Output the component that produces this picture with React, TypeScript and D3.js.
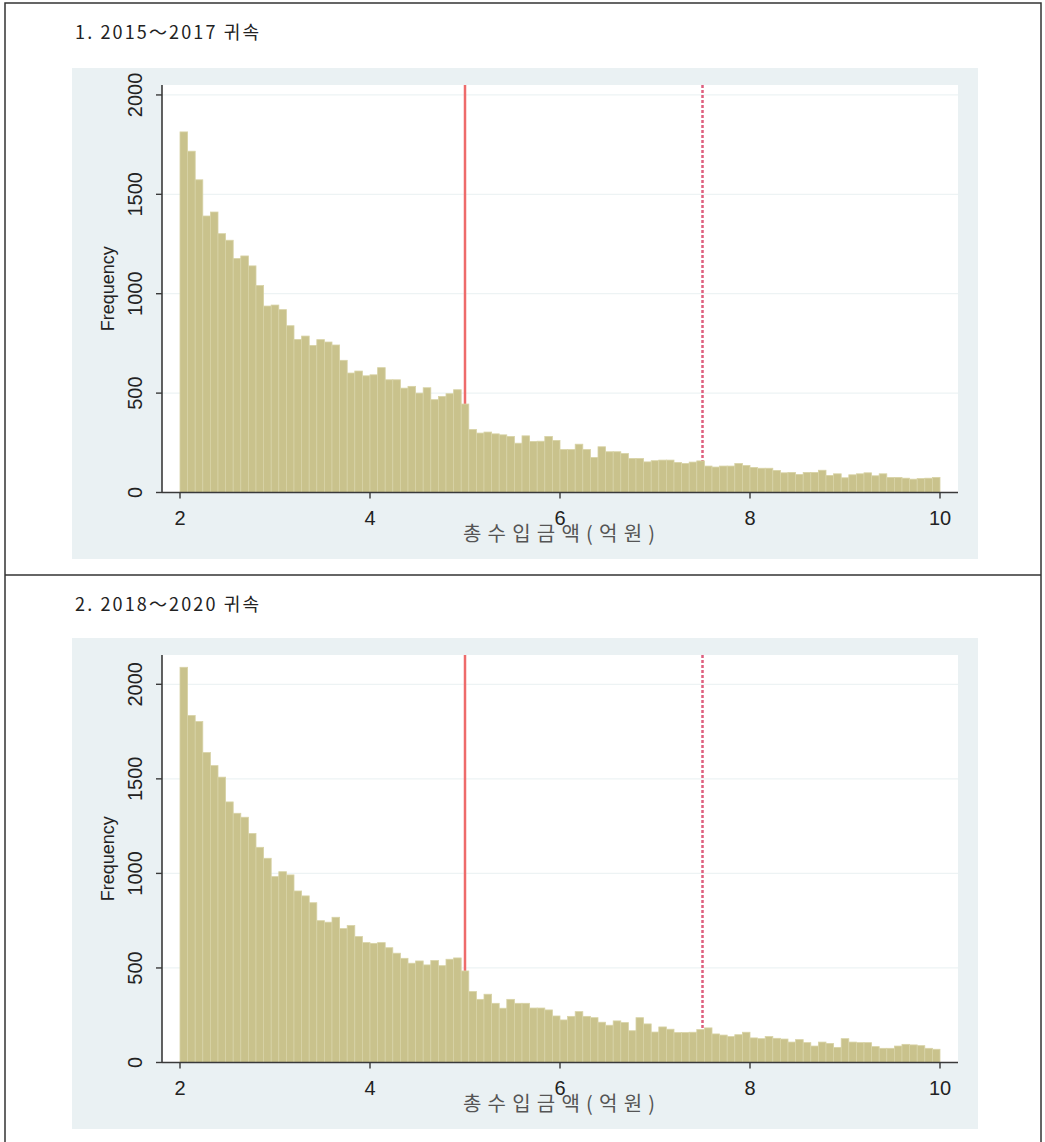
import React from 'react';
import * as d3 from 'd3';

// histogram bins: 100 bins of 0.08 from 2 to 10
const binStart = 2;
const binWidth = 0.08;

const counts2015 = [
  1814, 1717, 1573, 1391, 1411, 1302, 1269, 1177, 1190, 1140,
  1041, 938, 943, 920, 839, 770, 787, 740, 769, 757,
  742, 665, 601, 611, 587, 592, 628, 567, 567, 525,
  534, 500, 527, 467, 483, 497, 517, 445, 317, 299,
  304, 295, 290, 282, 248, 285, 257, 258, 282, 262,
  216, 216, 243, 216, 176, 230, 205, 205, 196, 171,
  171, 154, 160, 163, 163, 151, 146, 153, 159, 133,
  128, 133, 133, 146, 136, 126, 122, 122, 111, 99,
  101, 91, 101, 101, 112, 86, 94, 74, 89, 94,
  99, 84, 94, 76, 76, 72, 67, 70, 72, 76,
];

const counts2018 = [
  2090, 1835, 1803, 1639, 1570, 1509, 1378, 1318, 1297, 1211,
  1138, 1080, 983, 1009, 992, 907, 881, 845, 750, 742,
  768, 708, 724, 666, 634, 630, 634, 607, 578, 551,
  525, 537, 516, 539, 512, 546, 553, 484, 375, 334,
  361, 313, 287, 334, 313, 313, 288, 288, 278, 246,
  225, 244, 269, 244, 237, 213, 197, 220, 211, 168,
  237, 204, 161, 188, 176, 158, 158, 160, 174, 183,
  151, 145, 137, 147, 160, 130, 126, 137, 128, 124,
  108, 121, 105, 87, 108, 101, 80, 126, 108, 105,
  105, 84, 75, 75, 87, 96, 93, 89, 75, 70,
];

const yTicks = [0, 500, 1000, 1500, 2000];
const xTicks = [2, 4, 6, 8, 10];
const solidCut = 5;
const dashedCut = 7.5;
const titles = ['1. 2015～2017 귀속', '2. 2018～2020 귀속'];
const xTitle = '총수입금액(억원)';
const yTitle = 'Frequency';

const narrow = '"Liberation Sans Narrow", "Liberation Sans", Arial, sans-serif';
const kr = '"Noto Sans CJK KR", "Noto Sans", sans-serif';

const Histogram = ({ counts, top, yMax }) => {
  const plotTop = top + 17;
  const plotBottom = top + 424.5;
  const left = 162;
  const right = 958;

  const x = d3.scaleLinear().domain([2, 10]).range([180, 940]);
  const y = d3.scaleLinear().domain([0, yMax]).range([plotBottom, plotTop]);

  return (
    <g>
      <rect x={72} y={top} width={906} height={491} fill="#eaf1f3" />
      <rect x={left} y={plotTop} width={right - left} height={plotBottom - plotTop} fill="#ffffff" />
      {yTicks.filter(t => t > 0).map(t => (
        <line key={t} x1={left} x2={right} y1={y(t)} y2={y(t)} stroke="#edf3f4" strokeWidth={1.2} />
      ))}
      <line x1={x(solidCut)} x2={x(solidCut)} y1={plotTop} y2={plotBottom} stroke="#ee6b6b" strokeWidth={2.5} />
      <line x1={x(dashedCut)} x2={x(dashedCut)} y1={plotTop} y2={plotBottom} stroke="#de5f7e" strokeWidth={2.5} strokeDasharray="3 2" />
      {counts.map((c, i) => {
        const x0 = binStart + i * binWidth;
        return (
          <rect
            key={i}
            x={x(x0)}
            y={y(c)}
            width={x(x0 + binWidth) - x(x0)}
            height={y(0) - y(c)}
            fill="#c9c28c"
            stroke="#d8d3a6"
            strokeWidth={0.8}
          />
        );
      })}
      <line x1={left} x2={left} y1={plotTop} y2={plotBottom} stroke="#3a3a3a" strokeWidth={1.6} />
      <line x1={left} x2={right} y1={plotBottom} y2={plotBottom} stroke="#3a3a3a" strokeWidth={1.6} />
      {yTicks.map(t => (
        <g key={t}>
          <line x1={left - 6} x2={left} y1={y(t)} y2={y(t)} stroke="#3a3a3a" strokeWidth={1.4} />
          <text
            transform={`translate(${left - 20},${y(t)}) rotate(-90)`}
            textAnchor="middle"
            fontFamily={narrow}
            fontSize={20}
            fill="#222"
          >
            {t}
          </text>
        </g>
      ))}
      {xTicks.map(t => (
        <g key={t}>
          <line x1={x(t)} x2={x(t)} y1={plotBottom} y2={plotBottom + 6} stroke="#3a3a3a" strokeWidth={1.4} />
          <text x={x(t)} y={plotBottom + 32} textAnchor="middle" fontFamily={narrow} fontSize={20} fill="#222">
            {t}
          </text>
        </g>
      ))}
      <text
        transform={`translate(114,${(plotTop + plotBottom) / 2}) rotate(-90)`}
        textAnchor="middle"
        fontFamily={narrow}
        fontSize={18}
        fill="#222"
      >
        {yTitle}
      </text>
      <text
        x={559}
        y={plotBottom + 48}
        textAnchor="middle"
        fontFamily={kr}
        fontSize={20}
        fill="#555"
        textLength={192}
        lengthAdjust="spacing"
      >
        {xTitle}
      </text>
    </g>
  );
};

export default function App() {
  return (
    <svg width={1045} height={1142} style={{ position: 'absolute', left: 0, top: 0, background: '#fff' }}>
      <rect x={5} y={3} width={1036} height={1150} fill="none" stroke="#333" strokeWidth={1.5} />
      <line x1={5} x2={1041} y1={575} y2={575} stroke="#333" strokeWidth={1.5} />
      <text x={75} y={39} fontFamily={kr} fontSize={18} fill="#222" textLength={184} lengthAdjust="spacing">
        {titles[0]}
      </text>
      <text x={75} y={611} fontFamily={kr} fontSize={18} fill="#222" textLength={184} lengthAdjust="spacing">
        {titles[1]}
      </text>
      <Histogram counts={counts2015} top={68} yMax={2050} />
      <Histogram counts={counts2018} top={638} yMax={2155} />
    </svg>
  );
}
